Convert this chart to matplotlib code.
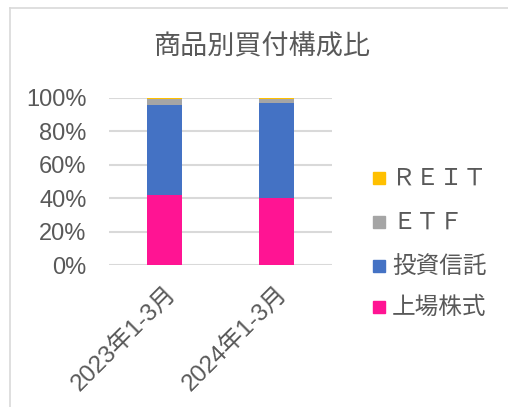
import matplotlib
matplotlib.use("Agg")
import matplotlib.pyplot as plt
from matplotlib.lines import Line2D
import numpy as np

plt.rcParams['font.family'] = ['Liberation Sans', 'Noto Sans CJK JP', 'DejaVu Sans']

categories = ['2023年1-3月', '2024年1-3月']
series_names = ['上場株式', '投資信託', 'ＥＴＦ', 'ＲＥＩＴ']
listed = [41.8, 40.2]
funds = [53.7, 56.5]
etf = [4.0, 2.7]
reit = [0.5, 0.6]
colors = ['#FF1493', '#4472C4', '#A5A5A5', '#FFC000']
yticks = [0, 20, 40, 60, 80, 100]
ytick_labels = ['0%', '20%', '40%', '60%', '80%', '100%']

W, H = 508, 407
fig = plt.figure(figsize=(W / 100, H / 100), dpi=100)
ax = fig.add_axes([108.9 / W, 1 - 265.3 / H, (332 - 108.9) / W, (265.3 - 97.7) / H])

x = np.arange(len(categories))
bottom = np.zeros(len(categories))
for vals, c in zip([listed, funds, etf, reit], colors):
    ax.bar(x, vals, width=0.31, bottom=bottom, color=c, zorder=3)
    bottom += np.array(vals)

ax.set_xlim(-0.5, len(categories) - 0.5)
ax.set_ylim(0, 100)
ax.set_yticks(yticks)
ax.set_yticklabels(ytick_labels, fontsize=17, color='#595959')
ax.set_xticks(x)
ax.set_xticklabels(categories, rotation=45, ha='right', rotation_mode='anchor',
                   fontsize=17.5, color='#595959',
                   family=['Liberation Sans', 'Noto Sans CJK JP'])
ax.tick_params(axis='both', length=0)
ax.tick_params(axis='y', pad=16)
ax.tick_params(axis='x', pad=12)
ax.yaxis.grid(True, color='#d9d9d9', linewidth=1.5, zorder=0)
for s in ax.spines.values():
    s.set_visible(False)

fig.text(262 / W, 1 - 47 / H, '商品別買付構成比', ha='center', va='center',
         fontsize=19.5, color='#595959', family=['Noto Sans CJK JP'])

# legend (top to bottom: REIT, ETF, 投資信託, 上場株式)
leg_y = [178, 222, 266, 307]
for name, c, yy in zip(series_names[::-1], colors[::-1], leg_y):
    fig.patches.append(plt.Rectangle((373 / W, 1 - (yy + 6) / H), 12 / W, 12 / H,
                                     transform=fig.transFigure, color=c))
    fig.text(392 / W, 1 - yy / H, name, ha='left', va='center', fontsize=17,
             color='#595959', family=['Noto Sans CJK JP'])

# chart border
fig.add_artist(Line2D([10 / W, 10 / W], [0, 1 - 8 / H], color='#d9d9d9', linewidth=1.2,
                      transform=fig.transFigure))
fig.add_artist(Line2D([10 / W, 1], [1 - 8 / H, 1 - 8 / H], color='#d9d9d9', linewidth=1.2,
                      transform=fig.transFigure))

fig.savefig('out.png', dpi=100)
